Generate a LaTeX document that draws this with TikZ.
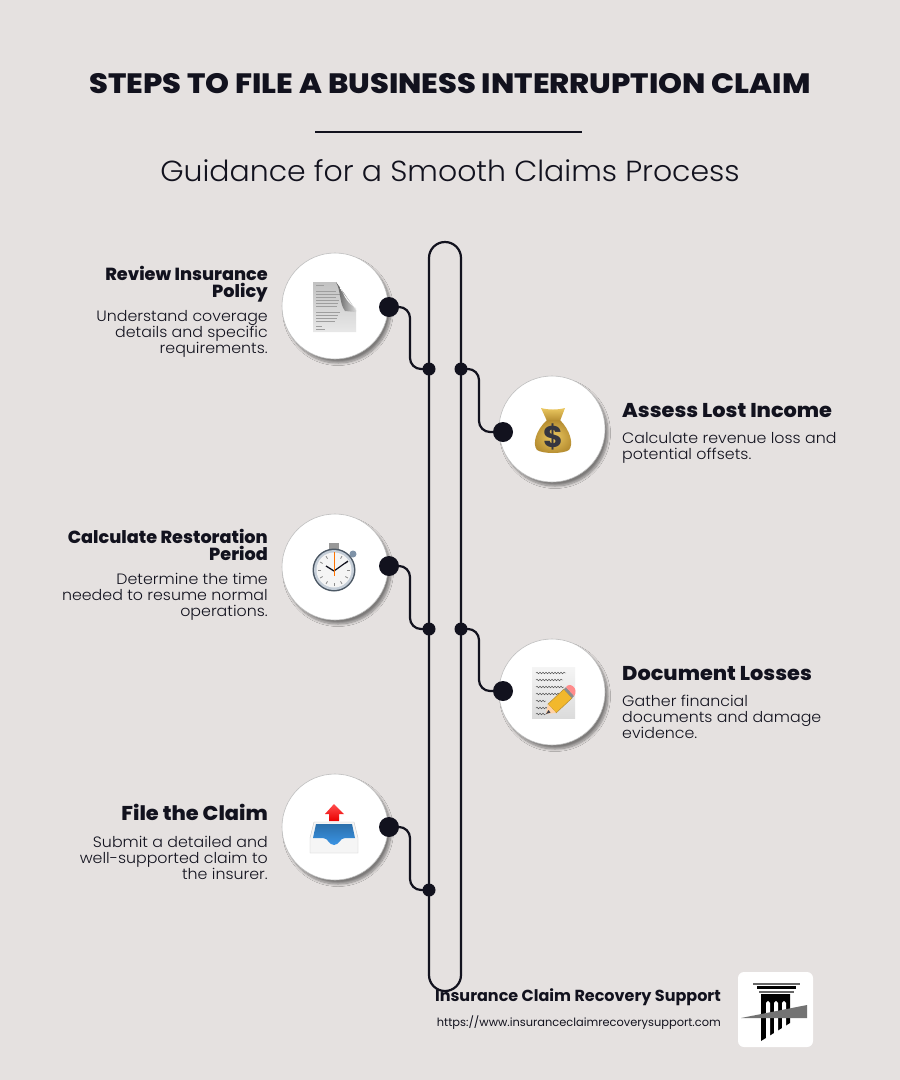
\documentclass[tikz,border=0pt]{standalone}
\usepackage{fontspec}
\usepackage{tikz}
\usetikzlibrary{shadows.blur,decorations.pathmorphing}
\setmainfont{Poppins}
\newfontfamily\titlefont[FakeStretch=1.087]{Poppins ExtraBold}
\newfontfamily\headfont[FakeStretch=1.008]{Poppins ExtraBold}
\newfontfamily\bigheadfont[FakeStretch=1.043]{Poppins ExtraBold}
\newfontfamily\subfont[FakeStretch=1.032]{Poppins Light}
\newfontfamily\bodyfont[FakeStretch=1.055]{Poppins Light}
\definecolor{paper}{HTML}{E5E1E0}
\definecolor{ink}{HTML}{12121E}
\definecolor{gold}{HTML}{EBC860}
\definecolor{golddark}{HTML}{B58C30}
\definecolor{steel}{HTML}{7F93A8}
\definecolor{pencil}{HTML}{F2B82C}
\definecolor{trayblue}{HTML}{3A94E4}
\begin{document}
\begin{tikzpicture}
	[x=1pt,y=-1pt,
	stepdisc/.style={circle,fill=white,draw=black!25,line width=.6pt,minimum size=106pt,inner sep=0pt,
		blur shadow={shadow xshift=3pt,shadow yshift=-4pt,shadow blur steps=10,shadow blur radius=2.5pt,shadow opacity=45}},
	bigdot/.style={circle,fill=ink,minimum size=20pt,inner sep=0pt},
	joint/.style={circle,fill=ink,minimum size=13pt,inner sep=0pt},
	link/.style={draw=ink,line width=2.2pt,rounded corners=11pt},
	steptitle/.style={font=\headfont\fontsize{17.5}{17.5}\selectfont,text=ink,inner sep=0pt},
	bigtitle/.style={font=\bigheadfont\fontsize{20}{20}\selectfont,text=ink,inner sep=0pt},
	lefttext/.style={anchor=east,align=right,inner sep=0pt,text=ink,font=\bodyfont\fontsize{15}{16}\selectfont},
	righttext/.style={anchor=west,align=left,inner sep=0pt,text=ink,font=\bodyfont\fontsize{15}{16}\selectfont}]
	\useasboundingbox (0,0) rectangle (900,1080);
	\fill[paper] (0,0) rectangle (900,1080);

	\node[font=\titlefont\fontsize{28}{28}\selectfont,text=ink,inner sep=0pt] (title) at (450,84) {STEPS TO FILE A BUSINESS INTERRUPTION CLAIM};
	\coordinate (ruleL) at (315,132);
	\coordinate (ruleR) at (582,132);
	\draw[ink,line width=2pt] (ruleL) -- (ruleR);
	\node[font=\subfont\fontsize{29}{29}\selectfont,text=ink,inner sep=0pt] (subtitle) at (450,171) {Guidance for a Smooth Claims Process};

	% track
	\draw[ink,line width=2.2pt,rounded corners=16pt] (429,242) rectangle (461,991);

	% discs
	\node[stepdisc] (disc1) at (335,306) {};
	\node[stepdisc] (disc2) at (552,429) {};
	\node[stepdisc] (disc3) at (335,567) {};
	\node[stepdisc] (disc4) at (552,692) {};
	\node[stepdisc] (disc5) at (335,827) {};

	\node[bigdot] (dot1) at (389,307) {};
	\node[bigdot] (dot2) at (503,432) {};
	\node[bigdot] (dot3) at (389,566) {};
	\node[bigdot] (dot4) at (503,691) {};
	\node[bigdot] (dot5) at (389,827) {};

	\node[joint] (joint1) at (429,369) {};
	\node[joint] (joint2) at (461,369) {};
	\node[joint] (joint3) at (429,629) {};
	\node[joint] (joint4) at (461,629) {};
	\node[joint] (joint5) at (429,890) {};

	\coordinate (bendL) at (410,0);
	\coordinate (bendR) at (479,0);
	\foreach \from/\to/\bend in {dot1/joint1/bendL,joint2/dot2/bendR,dot3/joint3/bendL,joint4/dot4/bendR,dot5/joint5/bendL}
	\draw[link] (\from.center) -| (\bend |- \to) -- (\to.center);

	% left texts
	\node[steptitle,anchor=east,align=right] (head1) at (268,284) {Review Insurance\\Policy};
	\node[lefttext] (body1) at (268,334) {Understand coverage\\details and specific\\requirements.};
	\node[steptitle,anchor=east,align=right] (head3) at (268,545) {Calculate Restoration\\Period};
	\node[lefttext] (body3) at (268,597) {Determine the time\\needed to resume normal\\operations.};
	\node[bigtitle,anchor=east] (head5) at (268,812.5) {File the Claim};
	\node[lefttext] (body5) at (268,858) {Submit a detailed and\\well-supported claim to\\the insurer.};

	% right texts
	\node[bigtitle,anchor=west] (head2) at (622,411) {Assess Lost Income};
	\node[righttext] (body2) at (622,448) {Calculate revenue loss and\\potential offsets.};
	\node[bigtitle,anchor=west] (head4) at (622,674) {Document Losses};
	\node[righttext] (body4) at (622,717) {Gather financial\\documents and damage\\evidence.};

	% document icon
	\shade[top color=black!24,bottom color=black!9] (313,282) -- (336,282) -- (356,310) -- (356,332) -- (313,332) -- cycle;
	\foreach \y/\len in {285/8,291/20,294/24,297/20,300/23,303/22,306/21,312/24,315/22,318/21,321/19,326/6,329/9}
	\draw[black!38,line width=.4pt] (316,\y) -- ++(\len,0);
	\shade[left color=black!65,right color=black!15] (336,282) .. controls (341,290) and (339,303) .. (345,311) -- (356,312) -- (356,310) -- cycle;
	\shade[top color=white,bottom color=black!10] (340,286) .. controls (344,294) and (345,302) .. (356,308) -- (356,310) -- (341,290) -- cycle;

	% money bag icon
	\shade[top color=gold,bottom color=golddark] (541,408) .. controls (548,410) and (558,410) .. (565,408) -- (560,421) -- (547,421) -- cycle;
	\shade[inner color=gold,outer color=golddark] (547,420) .. controls (536,430) and (532,444) .. (537,450) .. controls (543,454) and (563,454) .. (569,450) .. controls (574,444) and (570,430) .. (560,420) -- cycle;
	\node[font=\fontsize{30}{30}\selectfont\bfseries,text=ink!85,inner sep=0pt] (dollar) at (553,437) {\$};

	% stopwatch icon
	\fill[black!40] (329,543) rectangle (339,550);
	\fill[steel] (353,554) circle (3.5);
	\fill[steel!60!black] (334,570) circle (21.5);
	\fill[steel!45] (334,570) circle (20);
	\fill[black!4] (334,570) circle (17.5);
	\foreach \a in {0,30,...,330}
	\draw[black!45,line width=.8pt] (334,570) ++(\a:13) -- ++(\a:3);
	\draw[ink,line width=1.3pt] (334,571) -- (326,566);
	\draw[ink,line width=1.2pt] (334,571) -- (348,561);
	\draw[orange!90!red,line width=1pt] (334,576) -- (334,552);

	% notepad and pencil icon
	\shade[top color=black!4,bottom color=black!14] (532,667) rectangle (575,718);
	\foreach \y/\len in {673/30,680/27,687/28,694/24,701/10,708/14,714/10}
	\draw[black!70,line width=.45pt,decorate,decoration={snake,segment length=3pt,amplitude=.8pt}] (536,\y) -- ++(\len,0);
	\fill[pencil,draw=golddark,line width=.5pt] (547.9,704.1) -- (563.9,689.2) -- (572.1,698) -- (556.1,712.9) -- cycle;
	\fill[orange!35!white] (547.9,704.1) -- (556.1,712.9) -- (546,714) -- cycle;
	\fill[ink!80] (546,714) -- (548.5,710) -- (550.5,712.5) -- cycle;
	\fill[black!45] (563.9,689.2) -- (566,687.2) -- (574.2,696) -- (572.1,698) -- cycle;
	\fill[red!45!white] (566,687.2) .. controls (570,681) and (579,689) .. (574.2,696) -- cycle;

	% inbox icon
	\shade[top color=red!70!white,bottom color=red!92!black] (334,804) -- (344,814) -- (339,814) -- (339,821) -- (329,821) -- (329,814) -- (325,814) -- cycle;
	\fill[black!4,draw=black!20,line width=.4pt] (314,822) -- (354,822) -- (358,838) -- (358,853) -- (310,853) -- (310,838) -- cycle;
	\shade[top color=trayblue!75!black,bottom color=trayblue] (316,824) -- (352,824) -- (355,838) -- (345,838) .. controls (340,838) and (339,845) .. (334,845) .. controls (329,845) and (328,838) .. (323,838) -- (313,838) -- cycle;

	% footer
	\node[anchor=east,font=\fontsize{16}{16}\selectfont\bfseries,text=ink,inner sep=0pt] (brand) at (721,997) {Insurance Claim Recovery Support};
	\node[anchor=east,font=\fontsize{11.4}{12}\selectfont,text=ink,inner sep=0pt] (url) at (721,1023) {https://www.insuranceclaimrecoverysupport.com};

	% logo
	\fill[white,rounded corners=6pt] (738,972) rectangle (813,1047);
	\fill[black!60] (753,983) rectangle (800,985);
	\fill[black] (757,986) rectangle (796,989);
	\fill[black!60] (759,991) rectangle (794,993);
	\fill[black] (761,994) -- (790,994) -- (790,1023) -- (761,1041) -- cycle;
	\foreach \x in {766,774,782}
	\fill[white,rounded corners=1.8pt] (\x,1001) rectangle (\x+4,1045);
	\fill[black!55] (741,1018) -- (807,1005) -- (807,1018) -- cycle;
\end{tikzpicture}
\end{document}
